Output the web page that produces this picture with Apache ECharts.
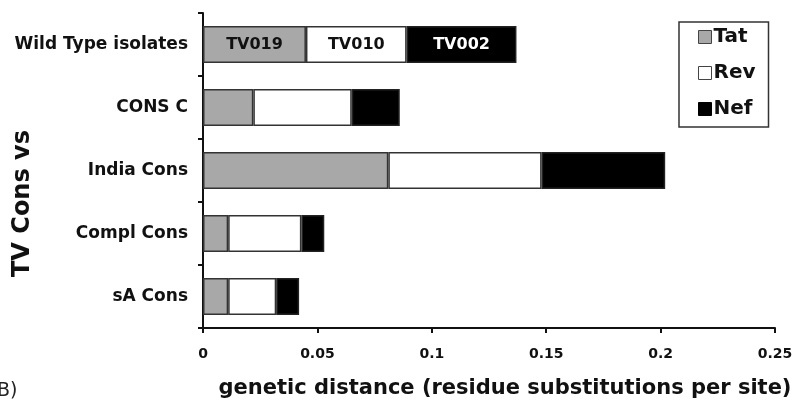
<!DOCTYPE html>
<html>
<head>
<meta charset="utf-8">
<script src="https://cdn.jsdelivr.net/npm/echarts@6/dist/echarts.min.js"></script>
<style>
  html, body { margin: 0; padding: 0; background: #fff; }
  #chart { width: 794px; height: 408px; }
</style>
</head>
<body>
<div id="chart"></div>
<script>
// Comparison groups (top to bottom)
const categories = ['Wild Type isolates', 'CONS C', 'India Cons', 'Compl Cons', 'sA Cons'];

// Genetic distance contributed by each gene (stacked)
const tatValues = [0.045, 0.022, 0.081, 0.011, 0.011];
const revValues = [0.044, 0.043, 0.067, 0.032, 0.021];
const nefValues = [0.048, 0.021, 0.054, 0.010, 0.010];

// Isolate names written inside the wild-type bar segments
const wildTypeIsolates = ['TV019', 'TV010', 'TV002'];

// X-axis tick labels
const xTickLabels = ['0', '0.05', '0.1', '0.15', '0.2', '0.25'];

const FONT = 'DejaVu Sans';

function segmentData(values, isolate, labelColor) {
  return values.map((v, i) => {
    if (i !== 0) return v;
    return {
      value: v,
      label: {
        show: true,
        position: 'inside',
        formatter: isolate,
        color: labelColor,
        fontFamily: FONT,
        fontWeight: 'bold',
        fontSize: 16
      }
    };
  });
}

const barBase = {
  type: 'bar',
  stack: 'dist',
  barWidth: 37,
  emphasis: { disabled: true }
};

const chart = echarts.init(document.getElementById('chart'), null, { renderer: 'canvas' });

chart.setOption({
  backgroundColor: '#ffffff',
  animation: false,
  grid: { left: 203, right: 19, top: 13, bottom: 80, containLabel: false, outerBoundsMode: 'none' },
  legend: {
    orient: 'vertical',
    left: 679,
    top: 22,
    padding: [5, 13, 8, 19],
    itemGap: 16,
    itemWidth: 13,
    itemHeight: 13,
    borderColor: '#333',
    borderWidth: 1.5,
    selectedMode: false,
    textStyle: { fontFamily: FONT, fontWeight: 'bold', fontSize: 20, color: '#111', lineHeight: 20, padding: [0, 0, 0, -3] },
    data: [
      { name: 'Tat', icon: 'rect', itemStyle: { color: '#a8a8a8', borderColor: '#444', borderWidth: 1 } },
      { name: 'Rev', icon: 'rect', itemStyle: { color: '#ffffff', borderColor: '#444', borderWidth: 1 } },
      { name: 'Nef', icon: 'rect', itemStyle: { color: '#000000', borderColor: '#000', borderWidth: 1 } }
    ]
  },
  xAxis: {
    type: 'value',
    min: 0,
    max: 0.25,
    interval: 0.05,
    name: 'genetic distance (residue substitutions per site)',
    nameLocation: 'middle',
    nameGap: 50,
    nameMoveOverlap: false,
    nameTextStyle: { fontFamily: FONT, fontWeight: 'bold', fontSize: 21, color: '#111', padding: [0, 0, 0, 32] },
    axisLine: { show: true, lineStyle: { color: '#111', width: 2 } },
    axisTick: { show: true, length: 5, lineStyle: { color: '#111', width: 2 } },
    splitLine: { show: false },
    axisLabel: {
      margin: 19,
      fontFamily: FONT,
      fontWeight: 'bold',
      fontSize: 14,
      color: '#111',
      formatter: (v) => xTickLabels[Math.round(v / 0.05)]
    }
  },
  yAxis: {
    type: 'category',
    inverse: true,
    data: categories,
    name: 'TV Cons vs',
    nameLocation: 'middle',
    nameGap: 168,
    nameRotate: 90,
    nameMoveOverlap: false,
    nameTextStyle: { fontFamily: FONT, fontWeight: 'bold', fontSize: 24, color: '#111', padding: [0, 66, 0, 0] },
    axisLine: { show: true, lineStyle: { color: '#111', width: 2 } },
    axisTick: { show: true, length: 5, lineStyle: { color: '#111', width: 2 } },
    axisLabel: { margin: 15, fontFamily: FONT, fontWeight: 'bold', fontSize: 17, color: '#111' }
  },
  series: [
    Object.assign({}, barBase, {
      name: 'Tat',
      data: segmentData(tatValues, wildTypeIsolates[0], '#111'),
      itemStyle: { color: '#a8a8a8', borderColor: '#333', borderWidth: 1.5 }
    }),
    Object.assign({}, barBase, {
      name: 'Rev',
      data: segmentData(revValues, wildTypeIsolates[1], '#111'),
      itemStyle: { color: '#ffffff', borderColor: '#333', borderWidth: 1.5 }
    }),
    Object.assign({}, barBase, {
      name: 'Nef',
      data: segmentData(nefValues, wildTypeIsolates[2], '#ffffff'),
      itemStyle: { color: '#000000', borderColor: '#222', borderWidth: 1.5 }
    })
  ],
  graphic: [
    {
      type: 'text',
      left: -3,
      top: 382,
      style: { text: 'B)', font: 'normal 19px "DejaVu Sans"', fill: '#222' }
    }
  ]
});
</script>
</body>
</html>
